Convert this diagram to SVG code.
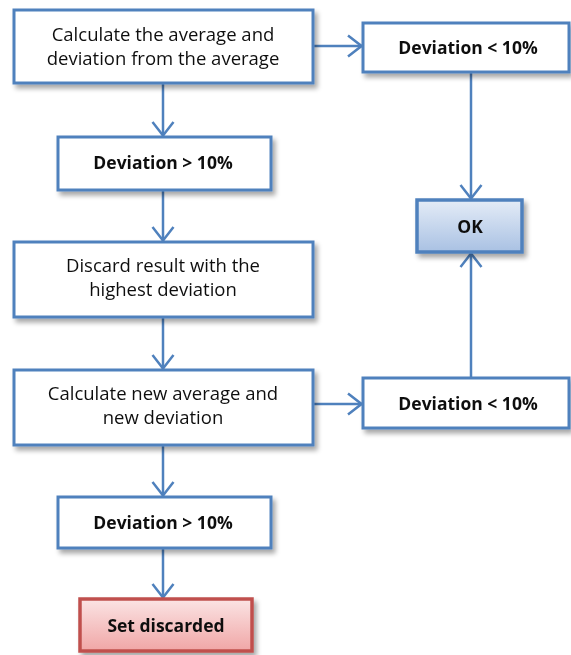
<svg xmlns="http://www.w3.org/2000/svg" width="571" height="655" viewBox="0 0 571 655">
  <defs>
    <filter id="shadow" x="-10%" y="-20%" width="125%" height="160%">
      <feGaussianBlur in="SourceAlpha" stdDeviation="2.5"/>
      <feOffset dx="3" dy="4" result="b"/>
      <feComponentTransfer><feFuncA type="linear" slope="0.35"/></feComponentTransfer>
      <feMerge><feMergeNode/><feMergeNode in="SourceGraphic"/></feMerge>
    </filter>
    <linearGradient id="okFill" x1="0" y1="0" x2="0" y2="1">
      <stop offset="0" stop-color="#e4ecf7"/>
      <stop offset="1" stop-color="#a9c1e3"/>
    </linearGradient>
    <linearGradient id="redFill" x1="0" y1="0" x2="0" y2="1">
      <stop offset="0" stop-color="#fbe4e4"/>
      <stop offset="1" stop-color="#f0a6a6"/>
    </linearGradient>
    <marker id="vee" viewBox="0 0 16 24" refX="15" refY="12" markerWidth="16" markerHeight="24" markerUnits="userSpaceOnUse" orient="auto">
      <path d="M1,1.5 L14.5,12 L1,22.5" fill="none" stroke="#4f81bd" stroke-width="2.5"/>
    </marker>
  </defs>
  <style>
    .box { fill: #ffffff; stroke: #4f81bd; stroke-width: 3; }
    .ok { fill: url(#okFill); stroke: #4f81bd; stroke-width: 3.5; }
    .stop { fill: url(#redFill); stroke: #c0504d; stroke-width: 3.5; }
    .txt { font-family: "Open Sans", "Liberation Sans", sans-serif; font-size: 18.5px; fill: #111; text-anchor: middle; }
    .bold { font-family: "Open Sans", "Liberation Sans", sans-serif; font-size: 17.5px; font-weight: bold; fill: #111; text-anchor: middle; }
    .conn { fill: none; stroke: #4f81bd; stroke-width: 2.5; marker-end: url(#vee); }
  </style>

  <rect width="571" height="655" fill="#ffffff"/>

  <g id="connectors">
    <line class="conn" x1="163" y1="83" x2="163" y2="136"/>
    <line class="conn" x1="313" y1="46" x2="362" y2="46"/>
    <line class="conn" x1="471" y1="73" x2="471" y2="199"/>
    <line class="conn" x1="163" y1="191" x2="163" y2="241"/>
    <line class="conn" x1="163" y1="318" x2="163" y2="369"/>
    <line class="conn" x1="313" y1="404" x2="362" y2="404"/>
    <line class="conn" x1="471" y1="377" x2="471" y2="253"/>
    <line class="conn" x1="163" y1="446" x2="163" y2="496"/>
    <line class="conn" x1="163" y1="549" x2="163" y2="598"/>
  </g>

  <g id="calc-average" filter="url(#shadow)">
    <rect class="box" x="14" y="10" width="299" height="73"/>
    <text class="txt" x="163" y="41">Calculate the average and</text>
    <text class="txt" x="163" y="65">deviation from the average</text>
  </g>

  <g id="dev-high-1" filter="url(#shadow)">
    <rect class="box" x="58" y="137" width="213" height="53"/>
    <text class="bold" x="163" y="169">Deviation &gt; 10%</text>
  </g>

  <g id="dev-low-1" filter="url(#shadow)">
    <rect class="box" x="363" y="23" width="206" height="49"/>
    <text class="bold" x="468" y="54">Deviation &lt; 10%</text>
  </g>

  <g id="ok" filter="url(#shadow)">
    <rect class="ok" x="417" y="200" width="105" height="52"/>
    <text class="bold" x="470" y="233">OK</text>
  </g>

  <g id="discard-highest" filter="url(#shadow)">
    <rect class="box" x="14" y="242" width="299" height="75"/>
    <text class="txt" x="163" y="272">Discard result with the</text>
    <text class="txt" x="163" y="296">highest deviation</text>
  </g>

  <g id="calc-new" filter="url(#shadow)">
    <rect class="box" x="14" y="370" width="299" height="75"/>
    <text class="txt" x="163" y="400">Calculate new average and</text>
    <text class="txt" x="163" y="424">new deviation</text>
  </g>

  <g id="dev-low-2" filter="url(#shadow)">
    <rect class="box" x="363" y="378" width="206" height="50"/>
    <text class="bold" x="468" y="410">Deviation &lt; 10%</text>
  </g>

  <g id="dev-high-2" filter="url(#shadow)">
    <rect class="box" x="58" y="497" width="213" height="51"/>
    <text class="bold" x="163" y="529">Deviation &gt; 10%</text>
  </g>

  <g id="set-discarded" filter="url(#shadow)">
    <rect class="stop" x="80" y="599" width="172" height="52"/>
    <text class="bold" x="166" y="632">Set discarded</text>
  </g>
</svg>
